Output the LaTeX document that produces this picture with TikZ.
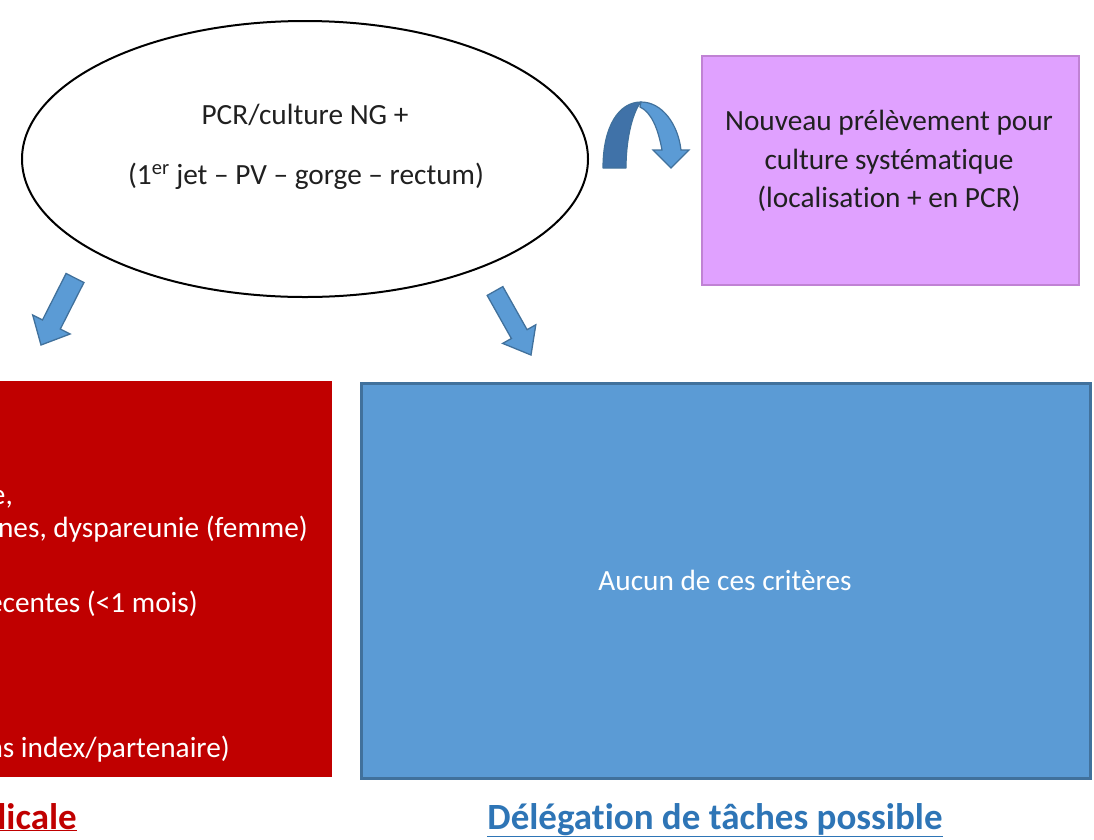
\documentclass[tikz,border=0pt]{standalone}
\usepackage{fontspec}
\setmainfont{Carlito}[Ligatures=NoCommon]
\usetikzlibrary{calc,shapes.geometric}

\definecolor{redbox}{RGB}{192,0,0}
\definecolor{bluebox}{RGB}{91,155,213}
\definecolor{blueedge}{RGB}{65,113,156}
\definecolor{bluedark}{RGB}{64,114,168}
\definecolor{violetfill}{RGB}{224,161,255}
\definecolor{violetedge}{RGB}{192,130,212}
\definecolor{titleblue}{RGB}{46,117,182}
\definecolor{textgrey}{RGB}{32,32,32}

\tikzset{
  body/.style={font=\fontsize{29.3}{38.5}\selectfont, text=textgrey, inner sep=0pt},
  whitetext/.style={font=\fontsize{29.3}{38.5}\selectfont, text=white, inner sep=0pt},
  heading/.style={font=\fontsize{37}{40}\selectfont\bfseries, inner sep=0pt},
  panel/.style={rectangle, inner sep=0pt, anchor=north west},
  blockarrow/.style={fill=bluebox, draw=blueedge, line width=1.3pt, line join=miter},
}

% straight block arrow from #1 to #2: shaft half width #3, head half width #4, head length #5
\newcommand\blockarrowpath[5]{%
  \coordinate (hb) at ($(#2)!#5!(#1)$);
  \path[blockarrow]
    ($(#1)!#3!90:(#2)$) -- ($(hb)!#3!90:(#2)$) -- ($(hb)!#4!90:(#2)$) -- (#2)
    -- ($(hb)!#4!-90:(#2)$) -- ($(hb)!#3!-90:(#2)$) -- ($(#1)!#3!-90:(#2)$) -- cycle;
}

\begin{document}
\begin{tikzpicture}[x=1pt,y=-1pt]
\useasboundingbox (0,0) rectangle (1094,839);
\clip (0,0) rectangle (1094,839);

% starting test result
\node[ellipse, draw=black, line width=2pt, fill=white, inner sep=0pt,
      minimum width=566pt, minimum height=276pt] (ng) at (305,159) {};
\node[body, anchor=base] (ngA) at (305,124) {PCR/culture NG +};
\node[body, anchor=base] (ngB) at (306,184) {(1\textsuperscript{er} jet -- PV -- gorge -- rectum)};

% new sample
\node[panel, fill=violetfill, draw=violetedge, line width=1.6pt,
      minimum width=377pt, minimum height=229pt] (resample) at (701,55) {};
\node[body, align=center] (resampleT) at (889,161)
  {Nouveau prélèvement pour\\culture systématique\\(localisation + en PCR)};

% curved arrow towards the new sample
\coordinate (cvA) at (603,168);
\coordinate (cvTop) at (641,102);
\coordinate (cvTip) at (671,168);
\path[fill=bluedark, draw=blueedge, line width=1.2pt, line join=round]
  (cvA) .. controls (603,126) and (619,102) .. (cvTop)
  .. controls (634,110) and (626,135) .. (626,168) -- cycle;
\path[fill=bluebox, draw=blueedge, line width=1.2pt, line join=miter]
  (cvTop) .. controls (662,102) and (678,124) .. (681,150) -- (689,150) -- (cvTip)
  -- (653,150) -- (662,150) .. controls (658,128) and (651,112) .. (640,107) -- cycle;

% criteria panel (left)
\node[panel, fill=redbox, minimum width=342pt, minimum height=396pt] (crit) at (-10,381) {};
\node[whitetext, anchor=base east] (critA) at (13,504) {e,};
\node[whitetext, anchor=base east] (critB) at (308,537) {nes, dyspareunie (femme)};
\node[whitetext, anchor=base east] (critC) at (198,612) {écentes (<1 mois)};
\node[whitetext, anchor=base east] (critD) at (230,757) {ns index/partenaire)};

% no criteria panel (right)
\node[panel, fill=bluebox, draw=blueedge, line width=2.5pt,
      minimum width=729pt, minimum height=395pt] (none) at (360,382) {};
\node[whitetext] (noneT) at (725,580) {Aucun de ces critères};

% headings under the panels
\node[heading, text=redbox, anchor=base east] (hLeft) at (77,829) {\underline{licale}};
\node[heading, text=titleblue, anchor=base] (hRight) at (715,829) {\underline{Délégation de tâches possible}};

% block arrows from the test result to both panels
\coordinate (laS) at (75,278);
\coordinate (laT) at (41,345);
\blockarrowpath{laS}{laT}{10pt}{21pt}{23pt}
\coordinate (raS) at (495,291);
\coordinate (raT) at (531,355);
\blockarrowpath{raS}{raT}{9pt}{19pt}{24pt}

\end{tikzpicture}
\end{document}
